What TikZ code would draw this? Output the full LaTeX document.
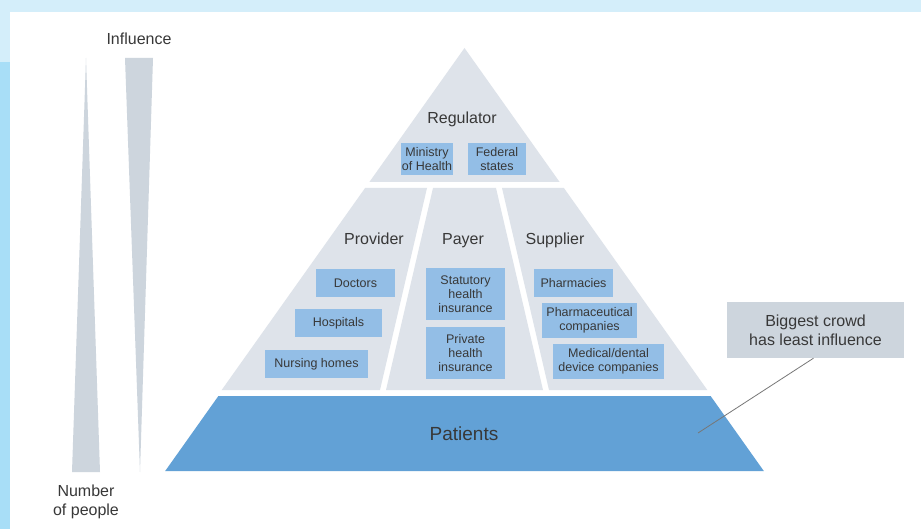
\documentclass[tikz,border=0pt]{standalone}
\usepackage{fontspec}
\setmainfont{Liberation Sans}
\definecolor{bandlight}{HTML}{D4EEFA}
\definecolor{banddark}{HTML}{A8DEF7}
\definecolor{tiergray}{HTML}{DEE3EA}
\definecolor{spikegray}{HTML}{CDD5DD}
\definecolor{patblue}{HTML}{62A1D6}
\definecolor{boxblue}{HTML}{93BEE6}
\definecolor{txt}{HTML}{383838}
\definecolor{leader}{HTML}{777777}
\begin{document}
\begin{tikzpicture}[x=1pt,y=-1pt,
  tier/.style={fill=tiergray,draw=none},
  spike/.style={fill=spikegray,draw=none},
  lbl/.style={text=txt,font=\fontsize{16}{19}\selectfont,align=center,inner sep=0pt},
  baselbl/.style={lbl,anchor=base},
  itembox/.style={fill=boxblue,text=txt,font=\fontsize{12.5}{14}\selectfont,align=center,inner sep=0pt},
  callbox/.style={fill=spikegray,text=txt,font=\fontsize{16}{19}\selectfont,align=center,inner sep=0pt,minimum width=177pt,minimum height=56pt}]
\useasboundingbox (0,0) rectangle (921,529);
% background
\fill[white] (0,0) rectangle (921,529);
\fill[bandlight] (0,0) rectangle (921,12);
\fill[bandlight] (0,12) rectangle (10,62);
\fill[banddark] (0,62) rectangle (10,529);
% spikes
\fill[spike] (72,472) -- (100,472) -- (86,58) -- cycle;
\fill[spike] (125,58) -- (153,58) -- (140,472) -- cycle;
\node[baselbl] (influence) at (139,44.3) {Influence};
\node[lbl] (people) at (86,501.5) {Number\\of people};
% pyramid
\fill[tier] (464.5,48) -- (559.6,182) -- (369.4,182) -- cycle;
\fill[tier] (365.1,188) -- (427,188) -- (380,390) -- (221.7,390) -- cycle;
\fill[tier] (433,188) -- (496,188) -- (543,390) -- (386,390) -- cycle;
\fill[tier] (502,188) -- (563.9,188) -- (707.3,390) -- (549,390) -- cycle;
\fill[patblue] (218.4,396) -- (710.6,396) -- (763.8,471) -- (165.2,471) -- cycle;
% labels
\node[baselbl] (regulator) at (462,123.3) {Regulator};
\node[baselbl] (provider) at (374,245) {Provider};
\node[baselbl] (payer) at (463,245) {Payer};
\node[baselbl] (supplier) at (555,245) {Supplier};
\node[baselbl,font=\fontsize{19}{22}\selectfont] (patients) at (464,440.7) {Patients};
% boxes
\node[itembox,minimum width=52pt,minimum height=32pt] (ministry) at (427,159) {Ministry\\of Health};
\node[itembox,minimum width=58pt,minimum height=32pt] (federal) at (497,159) {Federal\\states};
\node[itembox,minimum width=79pt,minimum height=28pt] (doctors) at (355.5,283) {Doctors};
\node[itembox,minimum width=87pt,minimum height=28pt] (hospitals) at (338.5,323) {Hospitals};
\node[itembox,minimum width=103pt,minimum height=28pt] (nursing) at (316.5,364) {Nursing homes};
\node[itembox,minimum width=79pt,minimum height=52pt] (statutory) at (465.5,294) {Statutory\\health\\insurance};
\node[itembox,minimum width=79pt,minimum height=52pt] (private) at (465.5,353) {Private\\health\\insurance};
\node[itembox,minimum width=79pt,minimum height=28pt] (pharmacies) at (573.5,283) {Pharmacies};
\node[itembox,minimum width=95pt,minimum height=35pt] (pharma) at (589.5,320.5) {Pharmaceutical\\companies};
\node[itembox,minimum width=111pt,minimum height=35pt] (medical) at (608.5,361.5) {Medical/dental\\device companies};
% callout
\node[callbox] (callout) at (815.5,330) {Biggest crowd\\has least influence};
\coordinate (calltip) at (698,433);
\draw[leader,line width=0.8pt] ([xshift=-2pt]callout.south) -- (calltip);
\end{tikzpicture}
\end{document}
